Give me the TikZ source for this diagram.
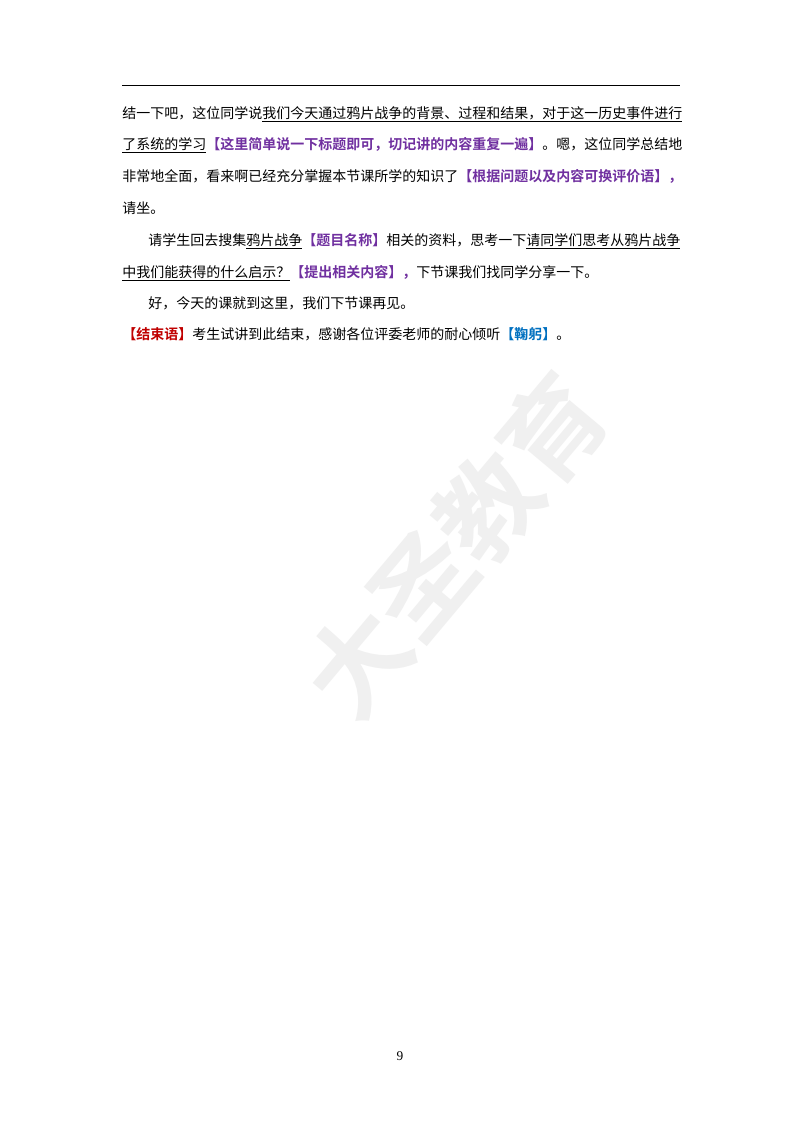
\documentclass[tikz,border=0pt]{standalone}
\usepackage{fontspec}
\setmainfont{Liberation Serif}
\newfontfamily\cjk{Noto Sans CJK SC}
\newfontfamily\cjkb{Noto Sans CJK SC Bold}
\definecolor{pur}{HTML}{7030A0}
\definecolor{rd}{HTML}{C00000}
\definecolor{bl}{HTML}{0070C0}
\newcommand{\pb}[1]{{\cjkb\color{pur}#1}}
\begin{document}
\begin{tikzpicture}[x=0.75pt,y=-0.75pt,
  ln/.style={anchor=base west,inner sep=0pt,font=\fontsize{10.5pt}{10.5pt}\cjk}]
\useasboundingbox (0,0) rectangle (800,1132);
\fill[white] (0,0) rectangle (800,1132);
\node[rotate=50,text=black!6,font=\fontsize{76pt}{76pt}\cjkb] (wm) at (455,545) {大圣教育};
\draw[line width=0.6pt] (122,85) coordinate (h1) -- (680,85) coordinate (h2);
\node[ln] (l1) at (122,118) {结一下吧，这位同学说\underline{我们今天通过鸦片战争的背景、过程和结果，对于这一历史事件进行}};
\node[ln] (l2) at (122,149) {\underline{了系统的学习}\pb{【这里简单说一下标题即可，切记讲的内容重复一遍】}。嗯，这位同学总结地};
\node[ln] (l3) at (122,181) {非常地全面，看来啊已经充分掌握本节课所学的知识了\pb{【根据问题以及内容可换评价语】，}};
\node[ln] (l4) at (122,213) {请坐。};
\node[ln] (l5) at (148,245) {请学生回去搜集\underline{鸦片战争}\pb{【题目名称】}相关的资料，思考一下\underline{请同学们思考从鸦片战争}};
\node[ln] (l6) at (122,277) {\underline{中我们能获得的什么启示？}\pb{【提出相关内容】，}下节课我们找同学分享一下。};
\node[ln] (l7) at (148,308) {好，今天的课就到这里，我们下节课再见。};
\node[ln] (l8) at (122,339) {{\cjkb\color{rd}【结束语】}考生试讲到此结束，感谢各位评委老师的耐心倾听{\cjkb\color{bl}【鞠躬】}。};
\node[font=\fontsize{10pt}{10pt}\selectfont] (pg) at (400,1056) {9};
\end{tikzpicture}
\end{document}
